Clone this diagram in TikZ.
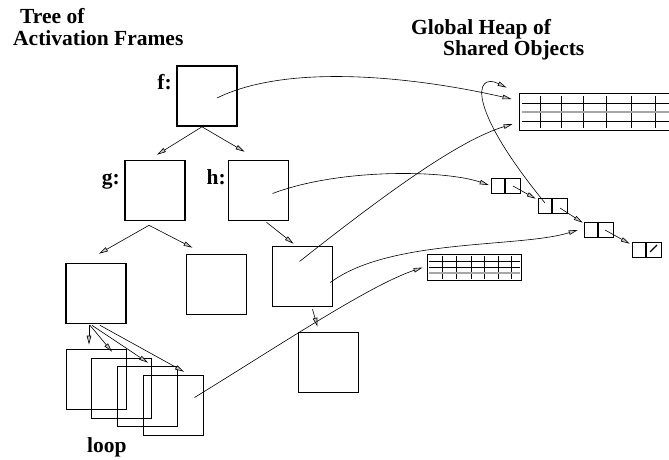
\documentclass[tikz,border=0pt]{standalone}
\usepackage{fontspec}
\setmainfont{Liberation Serif}
\usetikzlibrary{arrows.meta, positioning, calc}

\begin{document}
\begin{tikzpicture}[x=1pt, y=-1pt, >={Triangle[length=9pt, width=4.5pt, fill=gray!45]},
    frame/.style={draw, line width=1.6pt, minimum size=60pt, inner sep=0pt},
    cell/.style={draw, line width=1.6pt, minimum width=29pt, minimum height=15pt, inner sep=0pt},
    heap/.style={draw, line width=1.8pt, inner sep=0pt},
    grid/.style={line width=0.7pt},
    ptr/.style={->, line width=0.6pt},
    title/.style={font=\fontsize{21.5}{24}\selectfont\bfseries, inner sep=0pt, anchor=base west},
    tag/.style={font=\fontsize{21.5}{24}\selectfont\bfseries, inner sep=0pt, anchor=base east}]
    \useasboundingbox (0,0) rectangle (669,459);
    \clip (0,0) rectangle (669,459);

    % headings
    \node[title] (treehead) at (20,23) {Tree of};
    \node[title] (treehead2) at (13,45) {Activation Frames};
    \node[title] (heaphead) at (411,34) {Global Heap of};
    \node[title] (heaphead2) at (443,55) {Shared Objects};
    \node[title] (looplabel) at (87,452) {loop};

    % activation frames
    \node[frame] (f) at (207,96) {};
    \node[frame] (g) at (155,190.5) {};
    \node[frame] (h) at (258.5,190.5) {};
    \node[frame] (gl) at (96,293.5) {};
    \node[frame] (gr) at (216.5,284.5) {};
    \node[frame] (hc) at (302.5,276.5) {};
    \node[frame] (hcc) at (328.5,362.5) {};
    \node[frame] (loop1) at (96.5,379.5) {};
    \node[frame] (loop2) at (121.5,388.5) {};
    \node[frame] (loop3) at (147.5,396.5) {};
    \node[frame] (loop4) at (173.5,405.5) {};

    \node[tag] (ftag) at (172,89) {f:};
    \node[tag] (gtag) at (120,184) {g:};
    \node[tag] (htag) at (226,184) {h:};

    % shared arrays
    \node[heap, minimum width=160pt, minimum height=37pt] (heapA) at (599.5,112) {};
    \foreach \x in {540,561,583,606,631,655}
        \draw[grid] (\x,96) -- (\x,128);
    \draw[grid] (522,103) -- (680,103);
    \draw[grid, gray!70, line width=1.1pt] (522,112) -- (680,112);
    \draw[grid] (522,121) -- (680,121);

    \node[heap, minimum width=94pt, minimum height=26pt] (heapB) at (474.5,267.5) {};
    \foreach \x in {442,456,471,484,498,511}
        \draw[grid] (\x,256) -- (\x,279);
    \draw[grid] (429,261) -- (520,261);
    \draw[grid] (429,267) -- (520,267);
    \draw[grid, gray!70, line width=1.1pt] (429,273) -- (520,273);

    % linked list
    \node[cell] (cellA) at (506,186) {};
    \node[cell] (cellB) at (553,206) {};
    \node[cell] (cellC) at (599,230) {};
    \node[cell] (cellD) at (647,250) {};
    \foreach \c in {cellA,cellB,cellC,cellD}
        \draw[line width=1.6pt] ([xshift=14pt]\c.north west) -- ([xshift=14pt]\c.south west);
    \draw[line width=1.3pt] ([xshift=3pt,yshift=-2pt]cellD.center) -- ([xshift=10pt,yshift=5pt]cellD.center);

    \draw[ptr] ([xshift=7pt]cellA.center) -- ([xshift=-2pt,yshift=-1pt]cellB.north west);
    \draw[ptr] ([xshift=7pt,yshift=-2pt]cellB.center) -- ([xshift=-1pt,yshift=-1pt]cellC.north west);
    \draw[ptr] ([xshift=6pt]cellC.center) -- ([xshift=-2pt,yshift=-2pt]cellD.north west);

    % call tree
    \draw[ptr] ([xshift=-5pt]f.south) -- ([xshift=2pt,yshift=5pt]g.north);
    \draw[ptr] ([xshift=-5pt]f.south) -- ([xshift=-14pt,yshift=8pt]h.north);
    \draw[ptr] ([xshift=-6pt,yshift=-4pt]g.south) -- ([xshift=3pt,yshift=9pt]gl.north);
    \draw[ptr] ([xshift=-6pt,yshift=-4pt]g.south) -- ([xshift=-24pt,yshift=6pt]gr.north);
    \draw[ptr] ([xshift=8pt,yshift=-1pt]h.south) -- ([xshift=-9pt,yshift=2pt]hc.north);
    \draw[ptr] ([xshift=10pt,yshift=-2pt]hc.south) -- ([xshift=-11pt,yshift=5pt]hcc.north);
    \foreach \i/\sx/\ex/\ey in {1/-7/-7.5/4, 2/-6/-9.5/6, 3/-4/0.5/3, 4/4/10.5/3}
        \draw[ptr] ([xshift=\sx pt,yshift=-1pt]gl.south) -- ([xshift=\ex pt,yshift=\ey pt]loop\i.north);

    % references into the heap
    \draw[ptr] ([xshift=10pt,yshift=-2pt]f.center) .. controls (290,62) and (420,78) .. ([xshift=-7pt,yshift=13pt]heapA.west);
    \draw[ptr] ([xshift=14pt,yshift=-3pt]h.center) .. controls (340,168) and (445,170) .. ([xshift=-2pt,yshift=1pt]cellA.west);
    \draw[ptr] ([xshift=-3pt,yshift=15pt]hc.center) .. controls (390,190) and (460,140) .. ([xshift=-6pt,yshift=-12pt]heapA.west);
    \draw[ptr] ([xshift=-3pt,yshift=-6pt]hc.east) .. controls (390,238) and (520,248) .. ([xshift=-6pt]cellC.west);
    \draw[ptr] ([xshift=21pt,yshift=8pt]loop4.center) .. controls (280,345) and (370,285) .. ([xshift=-4pt]heapB.west);
    \draw[ptr] ([xshift=-8pt,yshift=3pt]cellB.center) .. controls (465,105) and (475,72) .. ([xshift=-12pt,yshift=5pt]heapA.north west);
\end{tikzpicture}
\end{document}
